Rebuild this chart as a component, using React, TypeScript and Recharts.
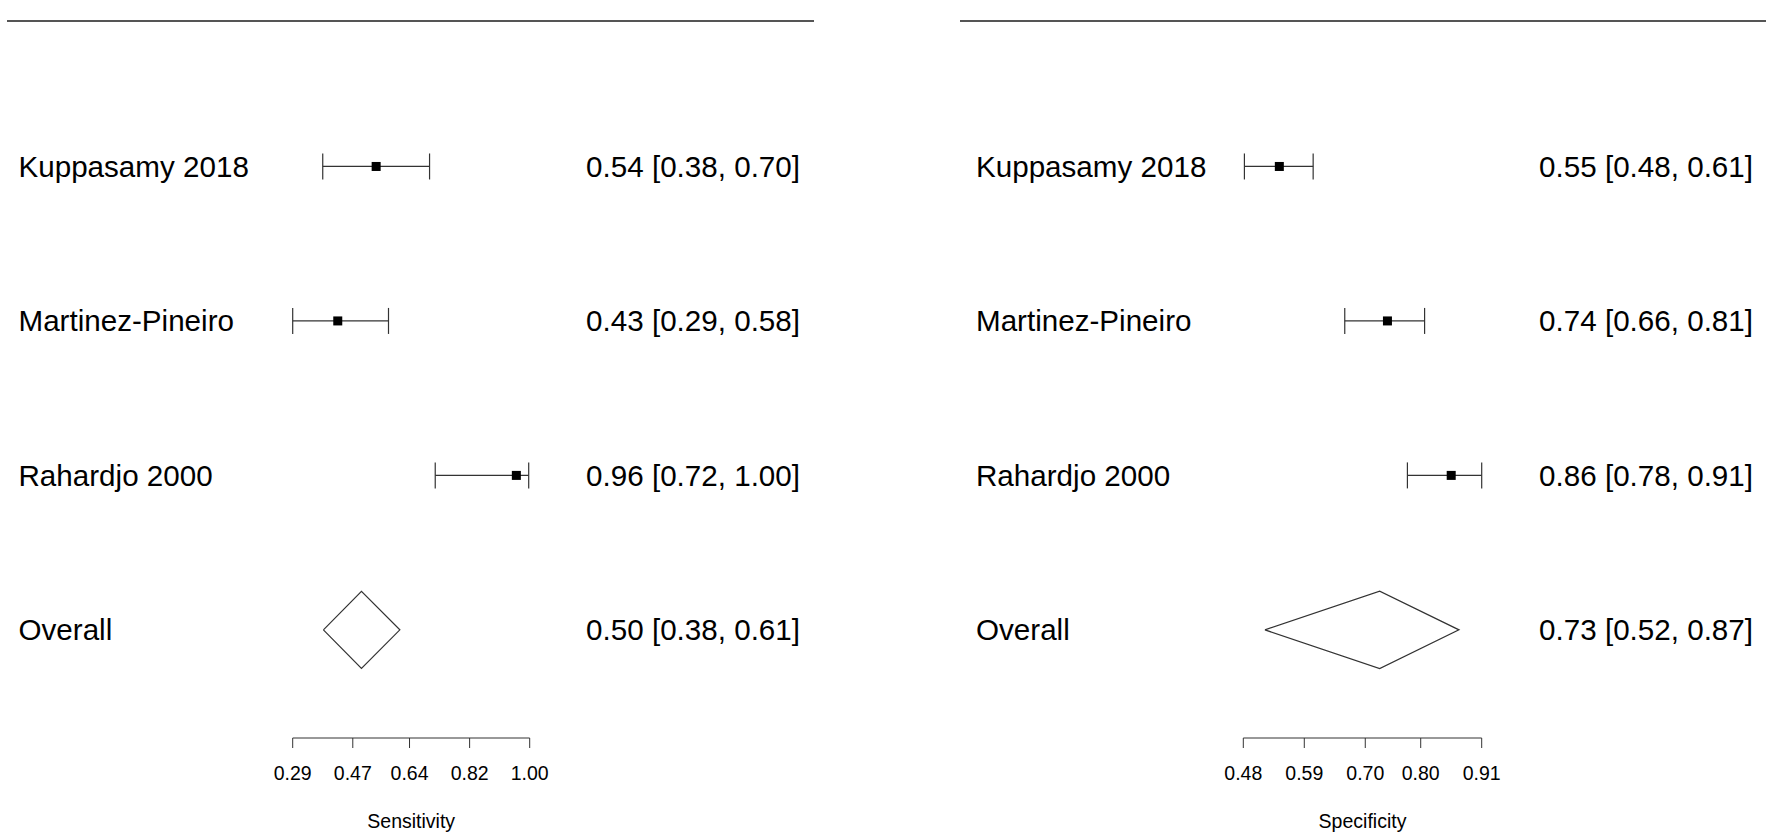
import React from 'react'
import { ComposedChart, Scatter, ErrorBar, XAxis, YAxis } from 'recharts'

// study rows, top to bottom
const studies = ['Kuppasamy 2018', 'Martinez-Pineiro', 'Rahardjo 2000']

// sensitivity (left panel)
const sensEst = [0.54, 0.425, 0.96]
const sensLow = [0.38, 0.29, 0.717]
const sensHigh = [0.7, 0.577, 0.997]
const sensOverall = [0.496, 0.382, 0.611] // est, low, high
const sensText = ['0.54 [0.38, 0.70]', '0.43 [0.29, 0.58]', '0.96 [0.72, 1.00]', '0.50 [0.38, 0.61]']
const sensTicks = [0.29, 0.47, 0.64, 0.82, 1.0]

// specificity (right panel)
const specEst = [0.545, 0.74, 0.855]
const specLow = [0.482, 0.663, 0.776]
const specHigh = [0.606, 0.807, 0.91]
const specOverall = [0.726, 0.519, 0.869]
const specText = ['0.55 [0.48, 0.61]', '0.74 [0.66, 0.81]', '0.86 [0.78, 0.91]', '0.73 [0.52, 0.87]']
const specTicks = [0.48, 0.59, 0.7, 0.8, 0.91]

const rowNames = [...studies, 'Overall']
const rows = [4, 3, 2, 1]

const FONT = '"Liberation Sans", Arial, sans-serif'
const INK = '#333'
const DIAMOND_HALF = 0.25

interface PanelProps {
  left: number
  width: number
  plotRight: number
  plotLeft: number
  nameX: number
  estX: number
  est: number[]
  low: number[]
  high: number[]
  overall: number[]
  texts: string[]
  ticks: number[]
  title: string
}

function Panel({ left, width, plotLeft, plotRight, nameX, estX, est, low, high, overall, texts, ticks, title }: PanelProps) {
  const points = est.map((v, i) => ({ x: v, y: rows[i], err: [v - low[i], high[i] - v] }))
  const [oe, ol, oh] = overall
  const diamond = [
    { x: ol, y: 1 },
    { x: oe, y: 1 + DIAMOND_HALF },
    { x: oh, y: 1 },
    { x: oe, y: 1 - DIAMOND_HALF },
    { x: ol, y: 1 },
  ]

  // study name on the left, estimate text on the right of each row
  const renderRow = (props: any) => {
    const idx = rows.indexOf(Number(props.payload?.value))
    if (idx < 0) return <g />
    return (
      <g>
        <text x={nameX} y={props.y} dy="0.35em" textAnchor="start" fontSize={29.6} fill="#000" fontFamily={FONT}>
          {rowNames[idx]}
        </text>
        <text x={estX} y={props.y} dy="0.35em" textAnchor="end" fontSize={29.6} fill="#000" fontFamily={FONT}>
          {texts[idx]}
        </text>
      </g>
    )
  }

  return (
    <div style={{ position: 'absolute', left, top: 0 }}>
      <ComposedChart
        width={width}
        height={835}
        margin={{ top: 12, right: width - plotRight, bottom: 0, left: 0 }}
        style={{ fontFamily: FONT }}
      >
        <XAxis
          type="number"
          dataKey="x"
          domain={[ticks[0], ticks[ticks.length - 1]]}
          ticks={ticks}
          interval={0}
          allowDataOverflow
          tickFormatter={(v: number) => v.toFixed(2)}
          tickSize={10}
          tickMargin={18}
          height={97}
          stroke={INK}
          tick={{ fill: '#000', fontSize: 19.5, fontFamily: FONT }}
          label={{ value: title, position: 'insideBottom', offset: 7, fill: '#000', fontSize: 19.5, fontFamily: FONT }}
        />
        <YAxis
          type="number"
          dataKey="y"
          domain={[0.3, 5]}
          ticks={rows}
          interval={0}
          width={plotLeft}
          axisLine={false}
          tickLine={false}
          tick={renderRow}
        />
        {/* summary diamond */}
        <Scatter
          data={diamond}
          line={{ stroke: INK, strokeWidth: 1.2 }}
          lineType="joint"
          shape={() => <g />}
          isAnimationActive={false}
        />
        {/* study estimates with CIs */}
        <Scatter
          data={points}
          isAnimationActive={false}
          shape={(p: any) => <rect x={p.cx - 4.5} y={p.cy - 4.5} width={9} height={9} fill="#000" />}
        >
          <ErrorBar dataKey="err" direction="x" width={13} stroke={INK} strokeWidth={1.2} isAnimationActive={false} />
        </Scatter>
      </ComposedChart>
    </div>
  )
}

export default function App() {
  return (
    <div style={{ position: 'relative', width: 1769, height: 835, background: '#fff', fontFamily: FONT }}>
      <style>{'body{margin:0}'}</style>
      <div style={{ position: 'absolute', left: 7, top: 20, width: 807, height: 2, background: '#555' }} />
      <div style={{ position: 'absolute', left: 960, top: 20, width: 806, height: 2, background: '#555' }} />
      <Panel
        left={0}
        width={830}
        plotLeft={292.7}
        plotRight={529.7}
        nameX={18.5}
        estX={800}
        est={sensEst}
        low={sensLow}
        high={sensHigh}
        overall={sensOverall}
        texts={sensText}
        ticks={sensTicks}
        title="Sensitivity"
      />
      <Panel
        left={880}
        width={889}
        plotLeft={363.3}
        plotRight={601.7}
        nameX={96}
        estX={873}
        est={specEst}
        low={specLow}
        high={specHigh}
        overall={specOverall}
        texts={specText}
        ticks={specTicks}
        title="Specificity"
      />
    </div>
  )
}
